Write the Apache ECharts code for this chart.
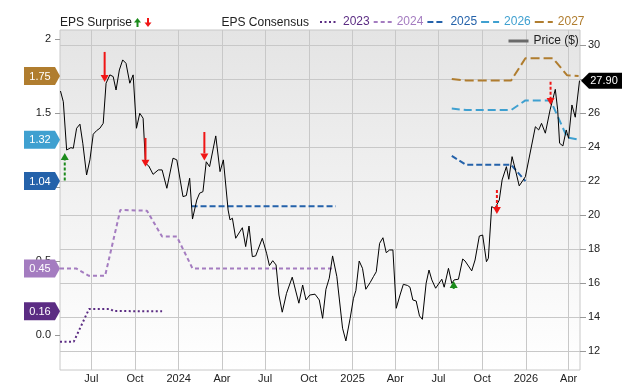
<!DOCTYPE html>
<html><head><meta charset="utf-8">
<script src="https://cdn.jsdelivr.net/npm/echarts@6/dist/echarts.min.js"></script>
<style>html,body{margin:0;padding:0;background:#fff}#c{width:640px;height:382px}</style>
</head><body><div id="c"></div>
<script>
// ---------- data ----------
const priceDates = ['2023-04-27','2023-05-03','2023-05-10','2023-05-19','2023-05-24','2023-05-31','2023-06-07','2023-06-13','2023-06-21','2023-06-28',
'2023-07-05','2023-07-12','2023-07-19','2023-07-26','2023-08-01','2023-08-09','2023-08-16','2023-08-22','2023-08-29','2023-09-05',
'2023-09-12','2023-09-20','2023-09-27','2023-10-04','2023-10-11','2023-10-18','2023-10-23','2023-10-30','2023-11-08','2023-11-19',
'2023-11-27','2023-12-07','2023-12-20','2023-12-28','2024-01-10','2024-01-17','2024-01-24','2024-01-30','2024-02-08','2024-02-14',
'2024-02-21','2024-02-28','2024-03-06','2024-03-19','2024-03-28','2024-04-04','2024-04-14','2024-04-18','2024-04-23','2024-04-30',
'2024-05-14','2024-05-21','2024-05-28','2024-06-04','2024-06-11','2024-06-25','2024-07-04','2024-07-10','2024-07-17','2024-07-24',
'2024-07-30','2024-08-06','2024-08-15','2024-08-27','2024-09-10','2024-09-18','2024-09-25','2024-10-03','2024-10-14','2024-10-23',
'2024-10-30','2024-11-06','2024-11-13','2024-11-20','2024-11-29','2024-12-11','2024-12-18','2024-12-27','2025-01-03','2025-01-08',
'2025-01-15','2025-01-22','2025-01-29','2025-02-07','2025-02-14','2025-02-20','2025-02-27','2025-03-06','2025-03-13','2025-03-20',
'2025-03-27','2025-04-03','2025-04-11','2025-04-18','2025-04-27','2025-05-02','2025-05-08','2025-05-15','2025-05-22','2025-05-28',
'2025-06-05','2025-06-11','2025-06-17','2025-06-25','2025-07-08','2025-07-13','2025-07-22','2025-07-29','2025-08-03','2025-08-12',
'2025-08-21','2025-08-26','2025-09-09','2025-09-16','2025-09-25','2025-10-02','2025-10-10','2025-10-14','2025-10-21','2025-10-28',
'2025-11-06','2025-11-12','2025-11-21','2025-11-26','2025-12-03','2025-12-10','2025-12-18','2025-12-31','2026-01-21','2026-01-28',
'2026-02-03','2026-02-11','2026-02-21','2026-03-04','2026-03-09','2026-03-13','2026-03-20','2026-03-27','2026-04-01','2026-04-08',
'2026-04-15','2026-04-24'];
const priceValues = [27.29,26.66,23.82,23.96,23.92,25.10,25.34,24.22,22.35,23.24,
24.75,24.96,25.10,25.39,27.75,28.24,28.14,27.35,28.53,29.12,
28.92,27.75,28.24,25.10,25.98,25.69,23.04,22.88,22.39,22.65,
22.65,21.57,23.34,23.24,21.08,21.14,22.16,19.76,20.88,21.28,
21.37,23.13,22.84,24.65,22.55,23.24,20.29,19.71,19.81,18.63,
19.25,18.14,19.35,17.55,17.59,18.63,17.75,17.02,17.31,17.06,
15.29,14.28,15.39,16.34,14.81,15.88,15.00,15.29,15.34,15.00,
13.92,15.63,16.28,17.59,16.37,13.34,12.59,13.92,15.10,15.55,
17.29,16.86,15.63,16.02,16.37,16.66,18.33,18.66,17.78,17.94,
17.94,14.51,15.29,15.92,15.85,15.75,15.00,14.94,14.06,13.86,
15.98,16.76,16.18,15.69,16.22,15.75,16.86,15.98,16.18,16.22,
17.41,17.29,16.71,17.35,18.76,18.82,17.25,17.45,20.49,20.39,
20.88,22.06,22.84,22.10,23.43,22.65,21.71,22.25,25.19,25.00,
25.39,24.81,26.18,27.39,26.18,24.22,24.06,25.00,24.51,26.47,
25.75,27.90];

const eps2023 = [['2023-04-26',-0.045],['2023-05-25',-0.045],['2023-06-26',0.175],['2023-08-10',0.175],['2023-08-17',0.162],['2023-11-27',0.16]];
const eps2024 = [['2023-04-26',0.45],['2023-05-30',0.45],['2023-06-26',0.40],['2023-07-30',0.40],['2023-08-31',0.845],['2023-10-26',0.84],['2023-11-27',0.665],['2023-12-28',0.665],['2024-01-30',0.45],['2024-11-25',0.45]];
const eps2025 = [['2024-01-28',0.87],['2024-11-27',0.87],['2025-03-01',null],['2025-07-29',1.21],['2025-08-28',1.15],['2025-12-01',1.15],['2025-12-31',1.04]];
const eps2026 = [['2025-07-29',1.53],['2025-08-28',1.52],['2025-12-01',1.52],['2025-12-31',1.585],['2026-02-22',1.585],['2026-03-29',1.335],['2026-04-22',1.32]];
const eps2027 = [['2025-07-29',1.73],['2025-08-28',1.72],['2025-12-01',1.72],['2025-12-31',1.87],['2026-02-27',1.87],['2026-03-29',1.755],['2026-04-22',1.75]];

const surpriseDates = ['2023-05-06','2023-07-29','2023-10-23','2024-02-24','2025-08-02','2025-11-01','2026-02-22'];
const surpriseFrom  = [22.02, 29.59, 24.53, 24.88, 15.65, 21.47, 27.84];
const surpriseTo    = [23.65, 27.82, 22.84, 23.21, 16.12, 20.06, 26.47];
const surpriseSolid = [false, true, true, true, false, false, false];

const xStart = '2023-04-26', xEnd = '2026-04-25';
const quarterTicks = ['2023-07-01','2023-10-01','2024-01-01','2024-04-01','2024-07-01','2024-10-01','2025-01-01','2025-04-01','2025-07-01','2025-10-01','2026-01-01','2026-04-01'];
const monthNames = ['Jan','Feb','Mar','Apr','May','Jun','Jul','Aug','Sep','Oct','Nov','Dec'];
const epsTicks = [0, 0.5, 1, 1.5, 2];
const epsTickLabels = ['0.0', '0.5', '1.0', '1.5', '2'];
const priceTicks = [12, 14, 16, 18, 20, 22, 24, 26, 28, 30];

// ---------- helpers / styling ----------
const ts = s => new Date(s + 'T00:00:00').getTime();
const toPairs = arr => arr.map(p => [ts(p[0]), p[1] === null ? '-' : p[1]]);
const FONT = "'Liberation Sans', Arial, sans-serif";
const GRID = '#c8c8c8';
const GREEN = '#1a8a1a', RED = '#f01515';
const consensus = [
  {name:'2023', data:eps2023, color:'#5b2c83', dash:[2,2.5]},
  {name:'2024', data:eps2024, color:'#a47cc0', dash:[4,3]},
  {name:'2025', data:eps2025, color:'#2462aa', dash:[6,3]},
  {name:'2026', data:eps2026, color:'#3fa0d0', dash:[8,4]},
  {name:'2027', data:eps2027, color:'#b07d2f', dash:[9,4]}
];

const series = consensus.map(c => ({
  name:c.name, type:'line', xAxisIndex:0, yAxisIndex:0, data:toPairs(c.data),
  symbol:'none', showSymbol:false, connectNulls:false,
  lineStyle:{color:c.color, width:2, type:c.dash, cap:'butt'},
  itemStyle:{color:c.color}, z:3, silent:true
}));

series.push({
  name:'Price ($)', type:'line', xAxisIndex:0, yAxisIndex:1,
  data: priceDates.map((d,i) => [ts(d), priceValues[i]]),
  symbol:'none', showSymbol:false,
  lineStyle:{color:'#000', width:1}, itemStyle:{color:'#000'}, z:4, silent:true
});

// surprise arrows
series.push({
  type:'custom', xAxisIndex:0, yAxisIndex:1, z:6, silent:true,
  data: surpriseDates.map((d,i) => [ts(d), surpriseFrom[i], surpriseTo[i], surpriseSolid[i] ? 1 : 0]),
  renderItem: (params, api) => {
    const a = api.coord([api.value(0), api.value(1)]);
    const b = api.coord([api.value(0), api.value(2)]);
    const up = b[1] < a[1];
    const color = up ? GREEN : RED;
    const head = 7, hw = 4;
    const baseY = up ? b[1] + head : b[1] - head;
    const solid = api.value(3) === 1;
    return {type:'group', children:[
      {type:'line', shape:{x1:a[0], y1:a[1], x2:b[0], y2:baseY},
       style:{stroke:color, lineWidth:2, lineDash: solid ? null : [3,2]}},
      {type:'polygon', shape:{points:[[b[0]-hw, baseY],[b[0]+hw, baseY],[b[0], b[1]]]}, style:{fill:color}}
    ]};
  }
});

// left value tags (last consensus values)
series.push({
  type:'custom', xAxisIndex:0, yAxisIndex:0, z:8, silent:true,
  data: consensus.map((c,i) => { const last = c.data[c.data.length-1]; return [ts(last[0]), last[1], i]; }),
  renderItem: (params, api) => {
    const cs = params.coordSys;
    const y = api.coord([api.value(0), api.value(1)])[1];
    const x = cs.x;
    const c = consensus[api.value(2)];
    return {type:'group', children:[
      {type:'polygon', shape:{points:[[x-36,y-9],[x-5,y-9],[x,y],[x-5,y+9],[x-36,y+9]]}, style:{fill:c.color}},
      {type:'text', style:{text:api.value(1).toFixed(2), x:x-20, y:y+0.5, fill:'#fff', font:'11px ' + FONT, align:'center', verticalAlign:'middle'}}
    ]};
  }
});

// right price tag
series.push({
  type:'custom', xAxisIndex:0, yAxisIndex:1, z:8, silent:true,
  data: [[ts(priceDates[priceDates.length-1]), priceValues[priceValues.length-1]]],
  renderItem: (params, api) => {
    const cs = params.coordSys;
    const y = api.coord([api.value(0), api.value(1)])[1];
    const x = cs.x + cs.width;
    return {type:'group', children:[
      {type:'polygon', shape:{points:[[x+1,y],[x+9,y-8],[x+42,y-8],[x+42,y+8],[x+9,y+8]]}, style:{fill:'#000'}},
      {type:'text', style:{text:api.value(1).toFixed(2), x:x+24, y:y+0.5, fill:'#fff', font:'11px ' + FONT, align:'center', verticalAlign:'middle'}}
    ]};
  }
});

const option = {
  animation:false,
  backgroundColor:'#fff',
  textStyle:{fontFamily:FONT},
  grid:{left:60, right:60, top:30, bottom:12, show:true, borderColor:GRID, borderWidth:1,
    outerBoundsMode:'none', containLabel:false,
    backgroundColor:{type:'linear', x:0, y:0, x2:0, y2:1, colorStops:[{offset:0, color:'#e4e4e4'},{offset:1, color:'#ffffff'}]}},
  legend:[
    {left:319, top:16, padding:0, itemWidth:18, itemHeight:14, itemGap:3, selectedMode:false,
     data: consensus.map(c => ({name:c.name, textStyle:{color:c.color}})),
     itemStyle:{opacity:0, borderWidth:0},
     textStyle:{fontSize:12, fontFamily:FONT}},
    {left:507, top:35, padding:0, itemWidth:20, itemHeight:14, selectedMode:false,
     data:[{name:'Price ($)'}], lineStyle:{color:'#6a6a6a', width:3},
     itemStyle:{opacity:0, borderWidth:0},
     textStyle:{fontSize:12, color:'#222', fontFamily:FONT}}
  ],
  graphic:[
    {type:'text', x:60, y:23, style:{text:'EPS Surprise', font:'12px ' + FONT, fill:'#222', verticalAlign:'middle'}},
    {type:'line', shape:{x1:137.5, y1:27, x2:137.5, y2:22}, style:{stroke:GREEN, lineWidth:2}},
    {type:'polygon', shape:{points:[[134,22.5],[141,22.5],[137.5,18]]}, style:{fill:GREEN}},
    {type:'line', shape:{x1:148, y1:18, x2:148, y2:23}, style:{stroke:RED, lineWidth:2}},
    {type:'polygon', shape:{points:[[144.5,22.5],[151.5,22.5],[148,27]]}, style:{fill:RED}},
    {type:'text', x:221.5, y:23, style:{text:'EPS Consensus', font:'12px ' + FONT, fill:'#222', verticalAlign:'middle'}}
  ],
  xAxis:{
    type:'value', min:ts(xStart), max:ts(xEnd),
    axisLine:{show:false},
    axisTick:{show:false, customValues:quarterTicks.map(ts)},
    axisLabel:{customValues:quarterTicks.map(ts), color:'#222', fontSize:11, fontFamily:FONT, margin:3,
      formatter:(v) => { const d = new Date(v); return d.getMonth() === 0 ? String(d.getFullYear()) : monthNames[d.getMonth()]; }},
    splitLine:{show:true, lineStyle:{color:GRID, width:1}}
  },
  yAxis:[
    {type:'value', position:'left', min:-0.2365, max:2.061,
     axisLine:{show:false},
     axisTick:{show:true, length:5, lineStyle:{color:'#999'}, customValues:epsTicks},
     axisLabel:{customValues:epsTicks, margin:9, fontSize:11, color:'#222', fontFamily:FONT,
       formatter:(v) => { const i = epsTicks.findIndex(t => Math.abs(t - v) < 1e-6); return i >= 0 ? epsTickLabels[i] : ''; }},
     splitLine:{show:false}},
    {type:'value', position:'right', min:10.88, max:30.88,
     axisLine:{show:false},
     axisTick:{show:true, length:6, lineStyle:{color:'#999'}, customValues:priceTicks},
     axisLabel:{customValues:priceTicks, margin:8, fontSize:11, color:'#222', fontFamily:FONT},
     splitLine:{show:true, lineStyle:{color:GRID, width:1}}}
  ],
  series: series
};

const chart = echarts.init(document.getElementById('c'), null, {renderer:'canvas'});
chart.setOption(option);
</script>
</body></html>
